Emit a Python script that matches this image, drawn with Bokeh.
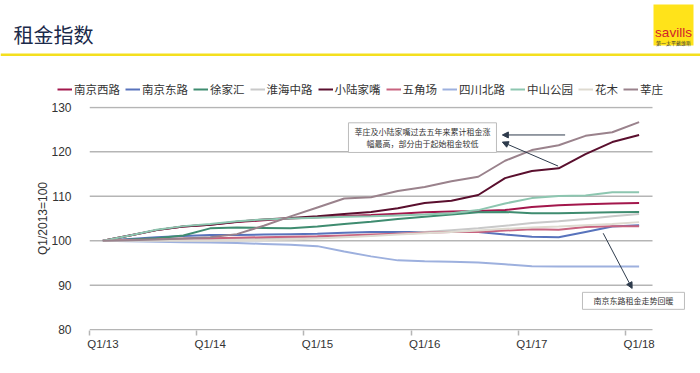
from bokeh.plotting import figure
from bokeh.models import (Range1d, FixedTicker, LinearAxis, Legend, LegendItem,
                          Label, Arrow, NormalHead)
from bokeh.layouts import column
from bokeh.embed import file_html
from bokeh.resources import INLINE
from bokeh.core.properties import value

# ---------------- data ----------------
quarters = ["Q1/13", "Q2/13", "Q3/13", "Q4/13",
            "Q1/14", "Q2/14", "Q3/14", "Q4/14",
            "Q1/15", "Q2/15", "Q3/15", "Q4/15",
            "Q1/16", "Q2/16", "Q3/16", "Q4/16",
            "Q1/17", "Q2/17", "Q3/17", "Q4/17",
            "Q1/18"]
tick_labels = ["Q1/13", "Q1/14", "Q1/15", "Q1/16", "Q1/17", "Q1/18"]

series_names = ["南京西路", "南京东路", "徐家汇", "淮海中路", "小陆家嘴",
                "五角场", "四川北路", "中山公园", "花木", "莘庄"]

nanjing_west = [100, 101.2, 102.4, 103.2, 103.6, 104.2, 104.6, 105.0, 105.3, 105.6, 105.8,
                106.1, 106.4, 106.6, 106.7, 106.9, 107.6, 108.0, 108.2, 108.4, 108.5]
nanjing_east = [100, 100.4, 100.8, 101.1, 101.3, 101.3, 101.4, 101.5, 101.6, 101.8, 102.0,
                102.0, 102.0, 102.0, 102.0, 101.4, 100.9, 100.8, 102.0, 103.2, 103.5]
xujiahui = [100, 100.3, 100.6, 101.2, 102.8, 103.0, 102.9, 102.8, 103.2, 103.8, 104.3,
            104.9, 105.4, 105.9, 106.4, 106.5, 106.2, 106.2, 106.3, 106.4, 106.5]
huaihai = [100, 100.1, 100.2, 100.3, 100.4, 100.5, 100.6, 100.7, 100.8, 101.0, 101.2,
           101.6, 102.0, 102.4, 102.8, 103.4, 104.0, 104.4, 104.9, 105.5, 106.0]
lujiazui = [100, 101.2, 102.4, 103.2, 103.6, 104.3, 104.8, 105.1, 105.5, 106.0, 106.5,
            107.3, 108.5, 109.0, 110.3, 114.1, 115.7, 116.3, 119.5, 122.2, 123.8]
wujiaochang = [100, 100.2, 100.3, 100.5, 100.6, 100.7, 100.8, 100.9, 101.0, 101.2, 101.4,
               101.6, 101.8, 102.0, 102.0, 102.3, 102.6, 102.5, 103.1, 103.3, 103.3]
sichuan_north = [100, 99.9, 99.8, 99.7, 99.6, 99.5, 99.3, 99.1, 98.8, 97.6, 96.5,
                 95.6, 95.4, 95.3, 95.1, 94.7, 94.3, 94.2, 94.2, 94.2, 94.2]
zhongshan_park = [100, 101.2, 102.5, 103.3, 103.8, 104.4, 104.8, 105.0, 105.2, 105.4, 105.5,
                  105.7, 105.9, 106.2, 106.9, 108.4, 109.6, 110.1, 110.2, 110.9, 110.9]
huamu = [100, 100.0, 100.0, 100.0, 100.0, 100.1, 100.2, 100.3, 100.5, 100.8, 101.1,
         101.4, 101.7, 102.0, 102.3, 102.7, 103.0, 103.2, 103.5, 103.8, 104.2]
xinzhuang = [100, 100.1, 100.3, 100.5, 100.8, 101.5, 103.4, 105.5, 107.5, 109.5, 109.8,
             111.2, 112.1, 113.4, 114.4, 118.0, 120.4, 121.5, 123.6, 124.4, 126.7]

series_values = [nanjing_west, nanjing_east, xujiahui, huaihai, lujiazui,
                 wujiaochang, sichuan_north, zhongshan_park, huamu, xinzhuang]
series_colors = ["#A3174C", "#5873BC", "#3F8C70", "#C9C9C9", "#5A0F2E",
                 "#C8637F", "#9DB0DE", "#8DC6B0", "#DEDAD0", "#9A828C"]

y_ticks = [80, 90, 100, 110, 120, 130]

title_text = "租金指数"
logo_text = "savills"
logo_sub = "第一太平戴维斯"
note1 = "莘庄及小陆家嘴过去五年来累计租金涨\n幅最高，部分由于起始租金较低"
note2 = "南京东路租金走势回暖"

CJK = "Noto Sans CJK SC"
LAT = "Liberation Sans"


def no_align(fig):
    try:
        fig.frame_align = False
    except Exception:
        pass


# ---------------- header figure (title, logo, legend) ----------------
HW, HH = 700, 100
h = figure(width=HW, height=HH, x_range=Range1d(0, HW), y_range=Range1d(HH, 0),
           output_backend="svg", toolbar_location=None, min_border=0,
           x_axis_location=None, y_axis_location=None, outline_line_color=None)
h.grid.visible = False
no_align(h)
h.text(x=[13], y=[34], text=[title_text], text_font=value(CJK), text_font_size="20px",
       text_color="#1B2A4A", text_baseline="middle", text_align="left")
h.quad(left=[0], right=[HW], top=[53], bottom=[55.5], fill_color="#F4DF1E", line_color=None)
h.quad(left=[653], right=[693], top=[4], bottom=[45], fill_color="#FFE31A", line_color=None)
h.text(x=[673], y=[32], text=[logo_text], text_font=value(LAT), text_font_size="13.5px",
       text_color="#D2232A", text_baseline="middle", text_align="center")
h.text(x=[673], y=[41.5], text=[logo_sub], text_font=value(CJK), text_font_size="5px",
       text_color="#333333", text_baseline="middle", text_align="center")

nan = float("nan")
items = []
for name, col in zip(series_names, series_colors):
    proxy = h.line(x=[nan, nan], y=[nan, nan], line_color=col, line_width=2)
    items.append(LegendItem(label=name, renderers=[proxy]))
legend = Legend(items=items, location=(57, 3), orientation="horizontal",
                glyph_width=15, glyph_height=14, label_height=14, label_standoff=2,
                spacing=5, padding=0, margin=0, border_line_color=None,
                background_fill_alpha=0, label_text_font=CJK,
                label_text_font_size="11.5px", label_text_color="#333333")
h.add_layout(legend)

# ---------------- main chart ----------------
X0, X1 = -0.5, 20.5          # category extent of the axis
p = figure(frame_width=611, frame_height=224,
           x_range=Range1d(X0, 22.29), y_range=Range1d(79.83, 130.2),
           output_backend="svg", toolbar_location=None,
           x_axis_location=None, y_axis_location="left",
           min_border_left=89, min_border_right=0, min_border_top=6, min_border_bottom=42,
           outline_line_color=None)
no_align(p)

grid_col = "#B5B5B5"
p.yaxis.ticker = FixedTicker(ticks=y_ticks)
p.yaxis.axis_line_color = None
p.yaxis.major_tick_line_color = None
p.yaxis.minor_tick_line_color = None
p.yaxis.major_label_standoff = 12
p.yaxis.major_label_text_font = LAT
p.yaxis.major_label_text_font_size = "12px"
p.yaxis.major_label_text_color = "#333333"
p.yaxis.axis_label = "Q1/2013=100"
p.yaxis.axis_label_text_font = LAT
p.yaxis.axis_label_text_font_size = "12px"
p.yaxis.axis_label_text_font_style = "normal"
p.yaxis.axis_label_text_color = "#333333"
try:
    p.yaxis.axis_label_standoff = -2
except Exception:
    p.yaxis.axis_label_standoff = 0
p.grid.visible = False

# horizontal grid lines and category-axis line limited to the category extent
grid_vals = y_ticks[1:]
p.segment(x0=[X0] * len(grid_vals), x1=[X1] * len(grid_vals), y0=grid_vals, y1=grid_vals,
          line_color=grid_col, line_width=1.5)
p.segment(x0=[X0], x1=[X1], y0=[y_ticks[0]], y1=[y_ticks[0]],
          line_color=grid_col, line_width=1.5)

n = len(quarters)
boundaries = [i - 0.5 for i in range(0, n, 4)]
label_pos = [quarters.index(t) for t in tick_labels]

ax_ticks = LinearAxis(ticker=FixedTicker(ticks=boundaries),
                      major_label_overrides={b: "" for b in boundaries},
                      major_label_standoff=0,
                      major_tick_out=5, major_tick_in=0,
                      axis_line_color=None,
                      major_tick_line_color=grid_col, major_tick_line_width=1.5,
                      minor_tick_line_color=None)
ax_labels = LinearAxis(ticker=FixedTicker(ticks=label_pos),
                       major_label_overrides={pos: t for pos, t in zip(label_pos, tick_labels)},
                       axis_line_color=None, major_tick_line_color=None,
                       minor_tick_line_color=None, major_tick_out=0, major_tick_in=0,
                       major_label_standoff=2, major_label_text_font=LAT,
                       major_label_text_font_size="11.5px", major_label_text_color="#333333")
p.add_layout(ax_ticks, "below")
p.add_layout(ax_labels, "below")

xs = list(range(n))
for vals, col in zip(series_values, series_colors):
    p.line(xs, vals, line_color=col, line_width=2)

# annotations
def boxed(x, y, text, pad):
    box = Label(x=x, y=y, text=text, text_align="center", text_baseline="middle",
                text_font=CJK, text_font_size="8px", text_color="#333333",
                background_fill_color="white", border_line_color="#BDBDBD",
                padding=pad, text_line_height=1.15)
    p.add_layout(box)

boxed(11.92, 123.2, note1, (6, 3))
boxed(19.79, 86.5, note2, (11, 3))

arrow_col = "#2E3B4C"
for (x0, y0, x1, y1) in [(17.24, 123.8, 14.9, 123.8),
                         (16.98, 116.8, 14.9, 122.2),
                         (18.66, 101.7, 19.74, 89.3)]:
    p.add_layout(Arrow(x_start=x0, y_start=y0, x_end=x1, y_end=y1,
                       line_color=arrow_col, line_width=1,
                       end=NormalHead(size=6, fill_color=arrow_col, line_color=arrow_col)))

layout = column(h, p, spacing=0)
open("out.html", "w").write(file_html(layout, INLINE))
